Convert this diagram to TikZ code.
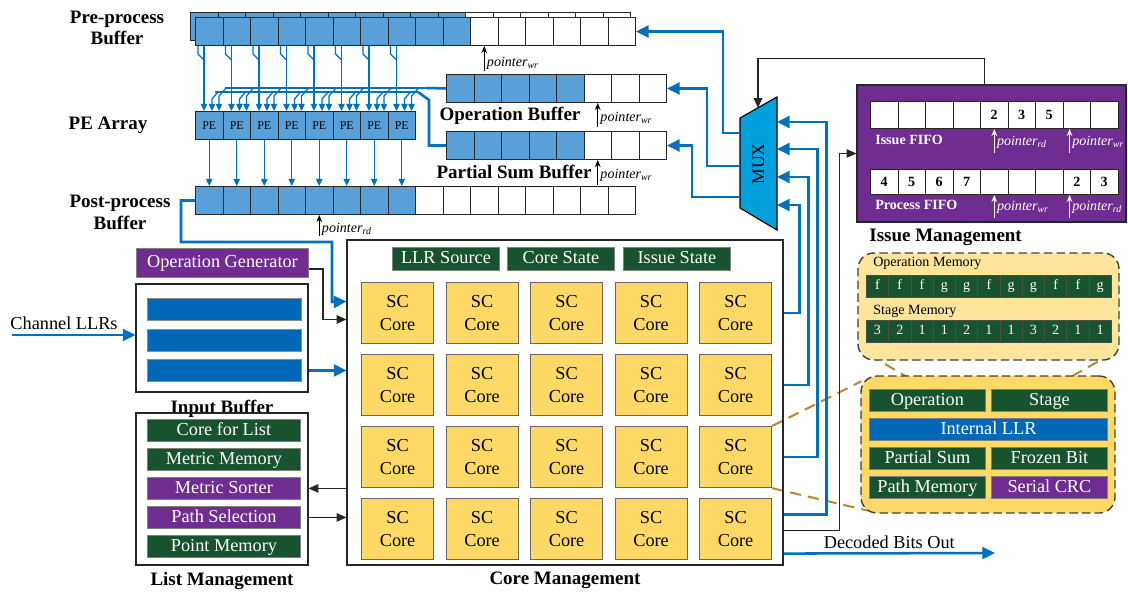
\documentclass[tikz,border=0pt]{standalone}
\usepackage{fontspec}
\setmainfont{Liberation Serif}
\usetikzlibrary{arrows.meta, positioning, fit, backgrounds, calc}
\definecolor{cellblue}{HTML}{5AA0D8}
\definecolor{barblue}{HTML}{0068B7}
\definecolor{wireblue}{HTML}{0070C0}
\definecolor{muxcyan}{HTML}{00A0DD}
\definecolor{unitgreen}{HTML}{17532E}
\definecolor{unitpurple}{HTML}{6F2C91}
\definecolor{coreyellow}{HTML}{FFD966}
\definecolor{memyellow}{HTML}{FFE49C}
\definecolor{zoomgold}{HTML}{B8862E}
\tikzset{
    cell/.style={
        rectangle, draw=black!85, line width=0.7pt, minimum width=0.6875cm,
        minimum height=0.7cm, inner sep=0pt, anchor=north west
    },
    pecell/.style={
        cell, fill=cellblue, font=\fontsize{8.5}{9}\selectfont
    },
    fifocell/.style={
        cell, fill=white, font=\fontsize{10}{11}\selectfont\bfseries
    },
    memcell/.style={
        rectangle, draw=black!70, line width=0.5pt, fill=unitgreen, text=white,
        minimum width=0.557cm, minimum height=0.55cm, inner sep=0pt,
        text height=7pt, text depth=2pt,
        anchor=north west, font=\fontsize{10}{11}\selectfont
    },
    unitbox/.style={
        rectangle, draw=black!50, line width=0.6pt, text=white, inner sep=0pt,
        text height=9pt, text depth=2.5pt,
        minimum height=0.55cm, anchor=north west, font=\fontsize{13}{14}\selectfont
    },
    barbox/.style={
        rectangle, draw=black!45, line width=0.6pt, fill=barblue,
        minimum width=3.85cm, minimum height=0.55cm, anchor=north west
    },
    sccore/.style={
        rectangle, draw=black!60, line width=0.8pt, fill=coreyellow, align=center,
        minimum width=1.8cm, minimum height=1.525cm, inner sep=0pt,
        anchor=north west, font=\fontsize{13}{16.5}\selectfont
    },
    frame/.style={draw=black!85, line width=0.8pt, inner sep=0pt},
    title/.style={font=\fontsize{13.5}{15.5}\selectfont\bfseries, align=center},
    txt/.style={font=\fontsize{13}{14}\selectfont},
    smalltxt/.style={font=\fontsize{10}{11}\selectfont, anchor=west, inner sep=0pt},
    ptxt/.style={font=\fontsize{10}{11}\selectfont\itshape, inner sep=1.5pt},
    ptr/.style={-{Stealth[length=5pt,width=4pt]}, line width=0.9pt},
    bus/.style={draw=wireblue, line width=1.8pt},
    busarrow/.style={bus, -{Triangle[length=9pt,width=8.5pt]}},
    peline/.style={draw=wireblue, line width=0.9pt},
    pearrow/.style={peline, -{Triangle[length=5pt,width=4.5pt]}},
    ctl/.style={draw=black!85, line width=0.9pt, -{Triangle[length=7pt,width=6pt]}},
    zoomline/.style={draw=zoomgold, line width=1.4pt, dash pattern=on 8pt off 5pt},
    zoombox/.style={draw=black!75, line width=1pt, dash pattern=on 6pt off 3pt,
        rounded corners=0.4cm, inner sep=0pt}
}

\begin{document}
\begin{tikzpicture}[x=0.025cm, y=-0.025cm]
\useasboundingbox (0,0) rectangle (1128,592);

% buffers on top
\foreach \i in {1,...,16}{
    \ifnum\i<11 \def\cf{cellblue}\else\def\cf{white}\fi
    \node[cell, fill=\cf] (bk\i) at ({190+27.5*(\i-1)},12) {};
}
\foreach \i in {1,...,16}{
    \ifnum\i<11 \def\cf{cellblue}\else\def\cf{white}\fi
    \node[cell, fill=\cf] (pre\i) at ({195+27.5*(\i-1)},17) {};
}
\foreach \i in {1,...,8}
    \node[pecell] (pe\i) at ({195+27.5*(\i-1)},111) {PE};
\foreach \i in {1,...,16}{
    \ifnum\i<9 \def\cf{cellblue}\else\def\cf{white}\fi
    \node[cell, fill=\cf] (post\i) at ({195+27.5*(\i-1)},186) {};
}
\foreach \i in {1,...,8}{
    \ifnum\i<6 \def\cf{cellblue}\else\def\cf{white}\fi
    \node[cell, fill=\cf] (opb\i) at ({446+27.5*(\i-1)},74) {};
    \node[cell, fill=\cf] (psb\i) at ({446+27.5*(\i-1)},131) {};
}

\node[title] (pretitle)  at (117,28)  {Pre-process\\Buffer};
\node[title] (petitle)   at (108,125) {PE Array};
\node[title] (posttitle) at (120,212) {Post-process\\Buffer};
\node[title] (opbtitle)  at (510,116) {Operation Buffer};
\node[title] (psbtitle)  at (514,172) {Partial Sum Buffer};

\draw[ptr] ($(pre11.south)+(0,25)$) -- (pre11.south)
    node[ptxt, pos=0.3, right] {pointer\textsubscript{wr}};
\draw[ptr] ($(opb6.south)+(0,24)$) -- (opb6.south)
    node[ptxt, pos=0.38, right] {pointer\textsubscript{wr}};
\draw[ptr] ($(psb6.south)+(0,25)$) -- (psb6.south)
    node[ptxt, pos=0.4, right] {pointer\textsubscript{wr}};
\draw[ptr] ($(post5.south)+(0,21)$) -- (post5.south)
    node[ptxt, pos=0.3, right] {pointer\textsubscript{rd}};

% PE array feeds
\coordinate (busu) at (225,88);
\coordinate (busl) at (215,92);
\foreach \i in {1,...,8}{
    \draw[peline] ($(pre\i.south west)+(3,0)$) -- ++(0,8) -- ++(6,6);
    \draw[pearrow] ($(pre\i.south west)+(9,0)$) -- ($(pe\i.north west)+(9,0)$);
    \draw[pearrow] ($(pe\i.north west)+(23,-19)$) -- ++(-6,7) -- ($(pe\i.north west)+(17,0)$);
    \draw[pearrow] ($(pe\i.north west)+(31,-23)$) -- ++(-7,8) -- ($(pe\i.north west)+(24,0)$);
    \draw[pearrow] (pe\i.south) -- (post\i.north);
}
\draw[peline] (busu) -- ++(202,0) coordinate (busu2);
\draw[bus] (busu2) -- (opb1.west);
\draw[peline] (busl) -- ++(203,0) coordinate (busl2);
\draw[bus] (busl2) -- ++(11,8) |- (psb1.west);

% MUX
\draw[line width=0.8pt, fill=muxcyan] (740,118) -- (777,97) -- (777,230) -- (740,208) -- cycle;
\node[rotate=90, font=\fontsize{12.5}{13}\selectfont] (mux) at (758.5,164) {MUX};
\coordinate (mo1) at (740,133);
\coordinate (mo2) at (740,166);
\coordinate (mo3) at (740,197);
\coordinate (mi1) at (777,122);
\coordinate (mi2) at (777,149);
\coordinate (mi3) at (777,177);
\coordinate (mi4) at (777,205);
\coordinate (msel) at (758,108);

% core management
\node[frame, fit={(347,240)(783,565)}] (core) {};
\node[title, below=1pt of core] (coretitle) {Core Management};
\node[unitbox, fill=unitgreen, minimum width=2.675cm, minimum height=0.575cm] (llrsrc) at (392,247) {LLR Source};
\node[unitbox, fill=unitgreen, minimum width=2.675cm, minimum height=0.575cm] (corest) at (507,247) {Core State};
\node[unitbox, fill=unitgreen, minimum width=2.675cm, minimum height=0.575cm] (issuest) at (623,247) {Issue State};
\foreach \r in {1,...,4}
    \foreach \c in {1,...,5}
        \node[sccore] (sc\r\c) at ({361+84.5*(\c-1)},{282+72*(\r-1)}) {SC\\Core};

% input side
\node[unitbox, fill=unitpurple, minimum width=4.3cm, minimum height=0.725cm] (opgen) at (136,248) {Operation Generator};
\node[frame, fit={(136,284)(308,392)}] (inbuf) {};
\foreach \j in {1,2,3}
    \node[barbox] (bar\j) at (147,{298+30.5*(\j-1)}) {};
\node[title, below=2pt of inbuf] (inbuftitle) {Input Buffer};
\node[frame, fit={(136,413)(308,565)}] (list) {};
\foreach \t/\c [count=\j] in {Core for List/unitgreen, Metric Memory/unitgreen,
        Metric Sorter/unitpurple, Path Selection/unitpurple, Point Memory/unitgreen}
    \node[unitbox, fill=\c, minimum width=3.825cm] (lst\j) at (147,{419+29*(\j-1)}) {\t};
\node[title, below=1pt of list] (listtitle) {List Management};
\node[txt] (chlbl) at (64,323) {Channel LLRs};
\coordinate (chin) at (12,335);

% issue management
\node[frame, fill=unitpurple, fit={(857,85)(1126,222)}] (issue) {};
\foreach \v [count=\i] in {0,0,0,0,2,3,5,0,0}
    \node[fifocell, minimum height=0.675cm] (iss\i) at ({870+27.5*(\i-1)},101) {\ifnum\v>0 \v\fi};
\foreach \v [count=\i] in {4,5,6,7,0,0,0,2,3}
    \node[fifocell, minimum height=0.625cm] (prc\i) at ({870+27.5*(\i-1)},169) {\ifnum\v>0 \v\fi};
\node[smalltxt, font=\fontsize{10}{11}\selectfont\bfseries, text=white] at (875,140) {Issue FIFO};
\node[smalltxt, font=\fontsize{10}{11}\selectfont\bfseries, text=white] at (875,205) {Process FIFO};
\draw[ptr, white] ($(iss5.south)+(0,24)$) -- (iss5.south)
    node[ptxt, text=white, pos=0.45, right] {pointer\textsubscript{rd}};
\draw[ptr, white] ($(iss8.south west)+(7,24)$) -- ($(iss8.south west)+(7,0)$)
    node[ptxt, text=white, pos=0.45, right] {pointer\textsubscript{wr}};
\draw[ptr, white] ($(prc5.south)+(0,23)$) -- (prc5.south)
    node[ptxt, text=white, pos=0.45, right] {pointer\textsubscript{wr}};
\draw[ptr, white] ($(prc8.south west)+(7,23)$) -- ($(prc8.south west)+(7,0)$)
    node[ptxt, text=white, pos=0.45, right] {pointer\textsubscript{rd}};
\node[title, anchor=north west] (issuetitle) at ($(issue.south west)+(8,2)$) {Issue Management};

% memories and core detail
\node[zoombox, fill=memyellow, fit={(858,253)(1119,360)}] (opmem) {};
\node[smalltxt] at (873,263) {Operation Memory};
\foreach \v [count=\i] in {f,f,f,g,g,f,g,g,f,f,g}
    \node[memcell] (om\i) at ({866+22.27*(\i-1)},275) {\v};
\node[smalltxt] at (873,311) {Stage Memory};
\foreach \v [count=\i] in {3,2,1,1,2,1,1,3,2,1,1}
    \node[memcell] (sm\i) at ({866+22.27*(\i-1)},320) {\v};

\node[zoombox, fill=coreyellow, fit={(861,376)(1115,513)}] (detail) {};
\node[unitbox, fill=unitgreen, minimum width=2.9cm] (dop) at (869,389) {Operation};
\node[unitbox, fill=unitgreen, minimum width=2.9cm] (dstage) at (991,389) {Stage};
\node[unitbox, fill=barblue, minimum width=5.95cm] (dllr) at (869,418) {Internal LLR};
\node[unitbox, fill=unitgreen, minimum width=2.9cm] (dps) at (869,447) {Partial Sum};
\node[unitbox, fill=unitgreen, minimum width=2.9cm] (dfb) at (991,447) {Frozen Bit};
\node[unitbox, fill=unitgreen, minimum width=2.9cm] (dpm) at (869,476) {Path Memory};
\node[unitbox, fill=unitpurple, minimum width=2.9cm] (dcrc) at (991,476) {Serial CRC};

% connections
\draw[busarrow] (chin) -- (chin -| inbuf.west);
\draw[busarrow] (bar3 -| inbuf.east) -- (bar3 -| core.west);
\draw[ctl] ($(opgen.east)+(0,6)$) -- ++(14,0) |- ($(core.north west)+(0,80)$);
\draw[busarrow] (post1.west) -| (181,242) -| (332,302) -- ($(core.north west)+(0,62)$);
\draw[ctl] (lst3 -| core.west) -- (lst3 -| list.east);
\draw[ctl] (lst4 -| list.east) -- (lst4 -| core.west);

\draw[busarrow] (mo1) -- ++(-17,0) |- (pre16.east);
\draw[busarrow] (mo2) -- ++(-33,0) |- (opb8.east);
\draw[busarrow] (mo3) -- ++(-48,0) |- (psb8.east);
\draw[busarrow] (core.east |- sc15) -- ++(16,0) |- (mi4);
\draw[busarrow] (core.east |- sc25) -- ++(25,0) |- (mi3);
\draw[busarrow] (core.east |- sc35) -- ++(34,0) |- (mi2);
\draw[busarrow] ($(core.south east)+(0,-51)$) -- ++(43,0) |- (mi1);
\draw[ctl] ($(core.south east)+(0,-35)$) -- ++(56,0) |- (issue.west);
\draw[ctl] ($(issue.north)+(-7,0)$) -- ++(0,-26) -| (msel);
\coordinate (dout) at (995,553);
\draw[busarrow] ($(core.south east)+(0,-12)$) -- (dout)
    node[txt, midway, above=-1pt] {Decoded Bits Out};

\begin{scope}[on background layer]
    \draw[zoomline] (sc35.north east) -- ($(detail.north west)+(1,6)$);
    \draw[zoomline] (sc35.south east) -- ($(detail.south west)+(8,-3)$);
    \draw[zoomline] ($(opmem.south west)+(12,-6)$) -- (dop.north);
    \draw[zoomline] ($(opmem.south east)+(-6,-8)$) -- (dstage.north);
\end{scope}

\end{tikzpicture}
\end{document}
